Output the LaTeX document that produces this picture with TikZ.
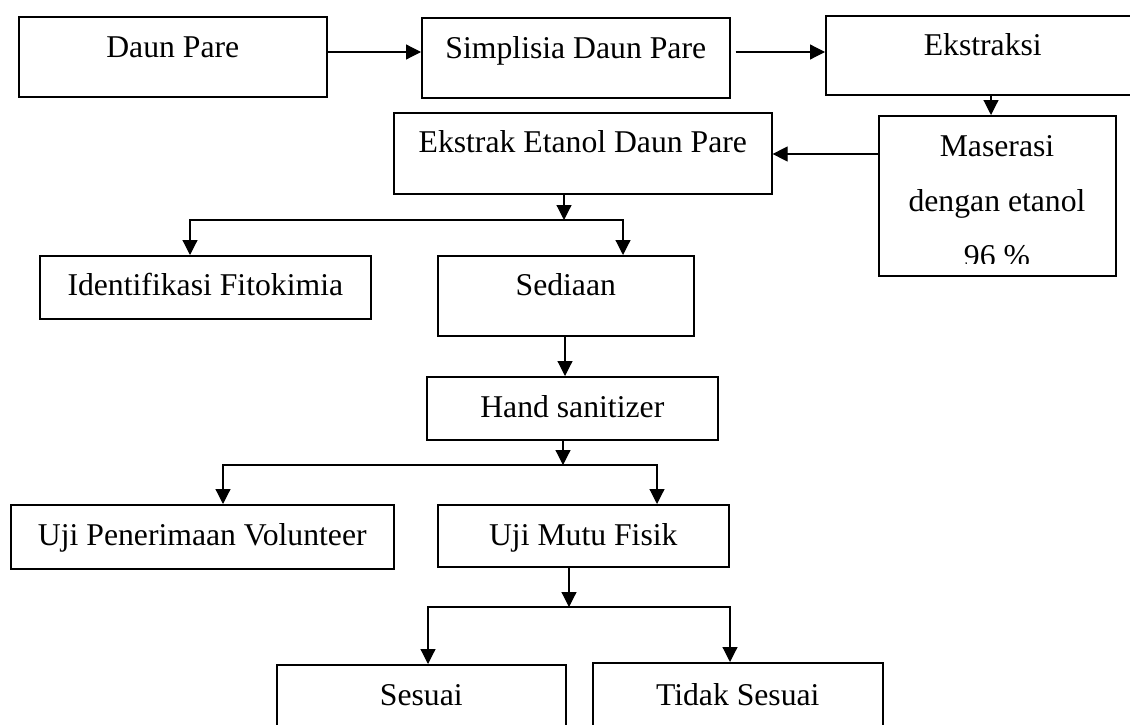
\documentclass[tikz,border=0pt]{standalone}
\usepackage{fontspec}
\setmainfont{Liberation Serif}
\usetikzlibrary{arrows.meta}
\tikzset{
  box/.style={draw, line width=1.6pt, inner sep=0pt, anchor=north west,
    font=\fontsize{31.7}{38}\selectfont},
  txt/.style={anchor=base, inner sep=0pt, font=\fontsize{31.7}{38}\selectfont},
  conn/.style={line width=1.2pt},
  arr/.style={conn, -{Triangle[length=15pt,width=15pt]}}
}
\begin{document}
\begin{tikzpicture}[x=1pt,y=-1pt]
\clip (0,0) rectangle (1130,725);
\fill[white] (0,0) rectangle (1130,725);
% boxes
\node[box, minimum width=308pt, text height=41pt, text depth=39pt] (dp) at (18,16) {Daun Pare};
\node[box, minimum width=308pt, text height=41pt, text depth=39pt] (sdp) at (421,17) {Simplisia Daun Pare};
\node[box, minimum width=314pt, text height=40pt, text depth=39pt] (eks) at (825,15) {Ekstraksi};
\node[box, minimum width=237pt, minimum height=160pt] (mas) at (878,115) {};
\node[box, minimum width=378pt, text height=40pt, text depth=41pt] (eedp) at (393,112) {Ekstrak Etanol Daun Pare};
\node[box, minimum width=331pt, text height=40pt, text depth=23pt] (idf) at (39,255) {Identifikasi Fitokimia};
\node[box, minimum width=256pt, text height=40pt, text depth=40pt] (sed) at (437,255) {Sediaan};
\node[box, minimum width=291pt, text height=41pt, text depth=22pt] (hs) at (426,376) {Hand sanitizer};
\node[box, minimum width=383pt, text height=41pt, text depth=23pt] (upv) at (10,504) {Uji Penerimaan Volunteer};
\node[box, minimum width=291pt, text height=41pt, text depth=21pt] (umf) at (437,504) {Uji Mutu Fisik};
\node[box, minimum width=289pt, text height=41pt, text depth=55pt] (ses) at (276,664) {Sesuai};
\node[box, minimum width=290pt, text height=43pt, text depth=55pt] (tds) at (592,662) {Tidak Sesuai};
% Maserasi text (clipped at the bottom)
\begin{scope}
\clip (878,115) rectangle (1115,263);
\node[txt] (m1) at (997,156) {Maserasi};
\node[txt] (m2) at (997,211) {dengan etanol};
\node[txt] (m3) at (997,266) {96 \%};
\end{scope}
% junctions
\coordinate (j1) at (564,220);
\coordinate (j2) at (563,465);
\coordinate (j3) at (569,607);
% connectors
\draw[arr] (dp.east |- 0,52) -- (sdp.west |- 0,52);
\draw[arr] ([xshift=5pt]sdp.east |- 0,52) -- (eks.west |- 0,52);
\draw[arr] (eks.south -| 991,0) -- (mas.north -| 991,0);
\draw[arr] (mas.west |- 0,154) -- (eedp.east |- 0,154);
\draw[arr] (eedp.south -| j1) -- (j1);
\draw[arr] (j1) -| (idf.north -| 190,0);
\draw[arr] (j1) -| (sed.north -| 623,0);
\draw[arr] (sed.south -| 565,0) -- (hs.north -| 565,0);
\draw[arr] (hs.south -| j2) -- (j2);
\draw[arr] (j2) -| (upv.north -| 223,0);
\draw[arr] (j2) -| (umf.north -| 657,0);
\draw[arr] (umf.south -| j3) -- (j3);
\draw[arr] (j3) -| (ses.north -| 428,0);
\draw[arr] (j3) -| (tds.north -| 730,0);
\end{tikzpicture}
\end{document}
